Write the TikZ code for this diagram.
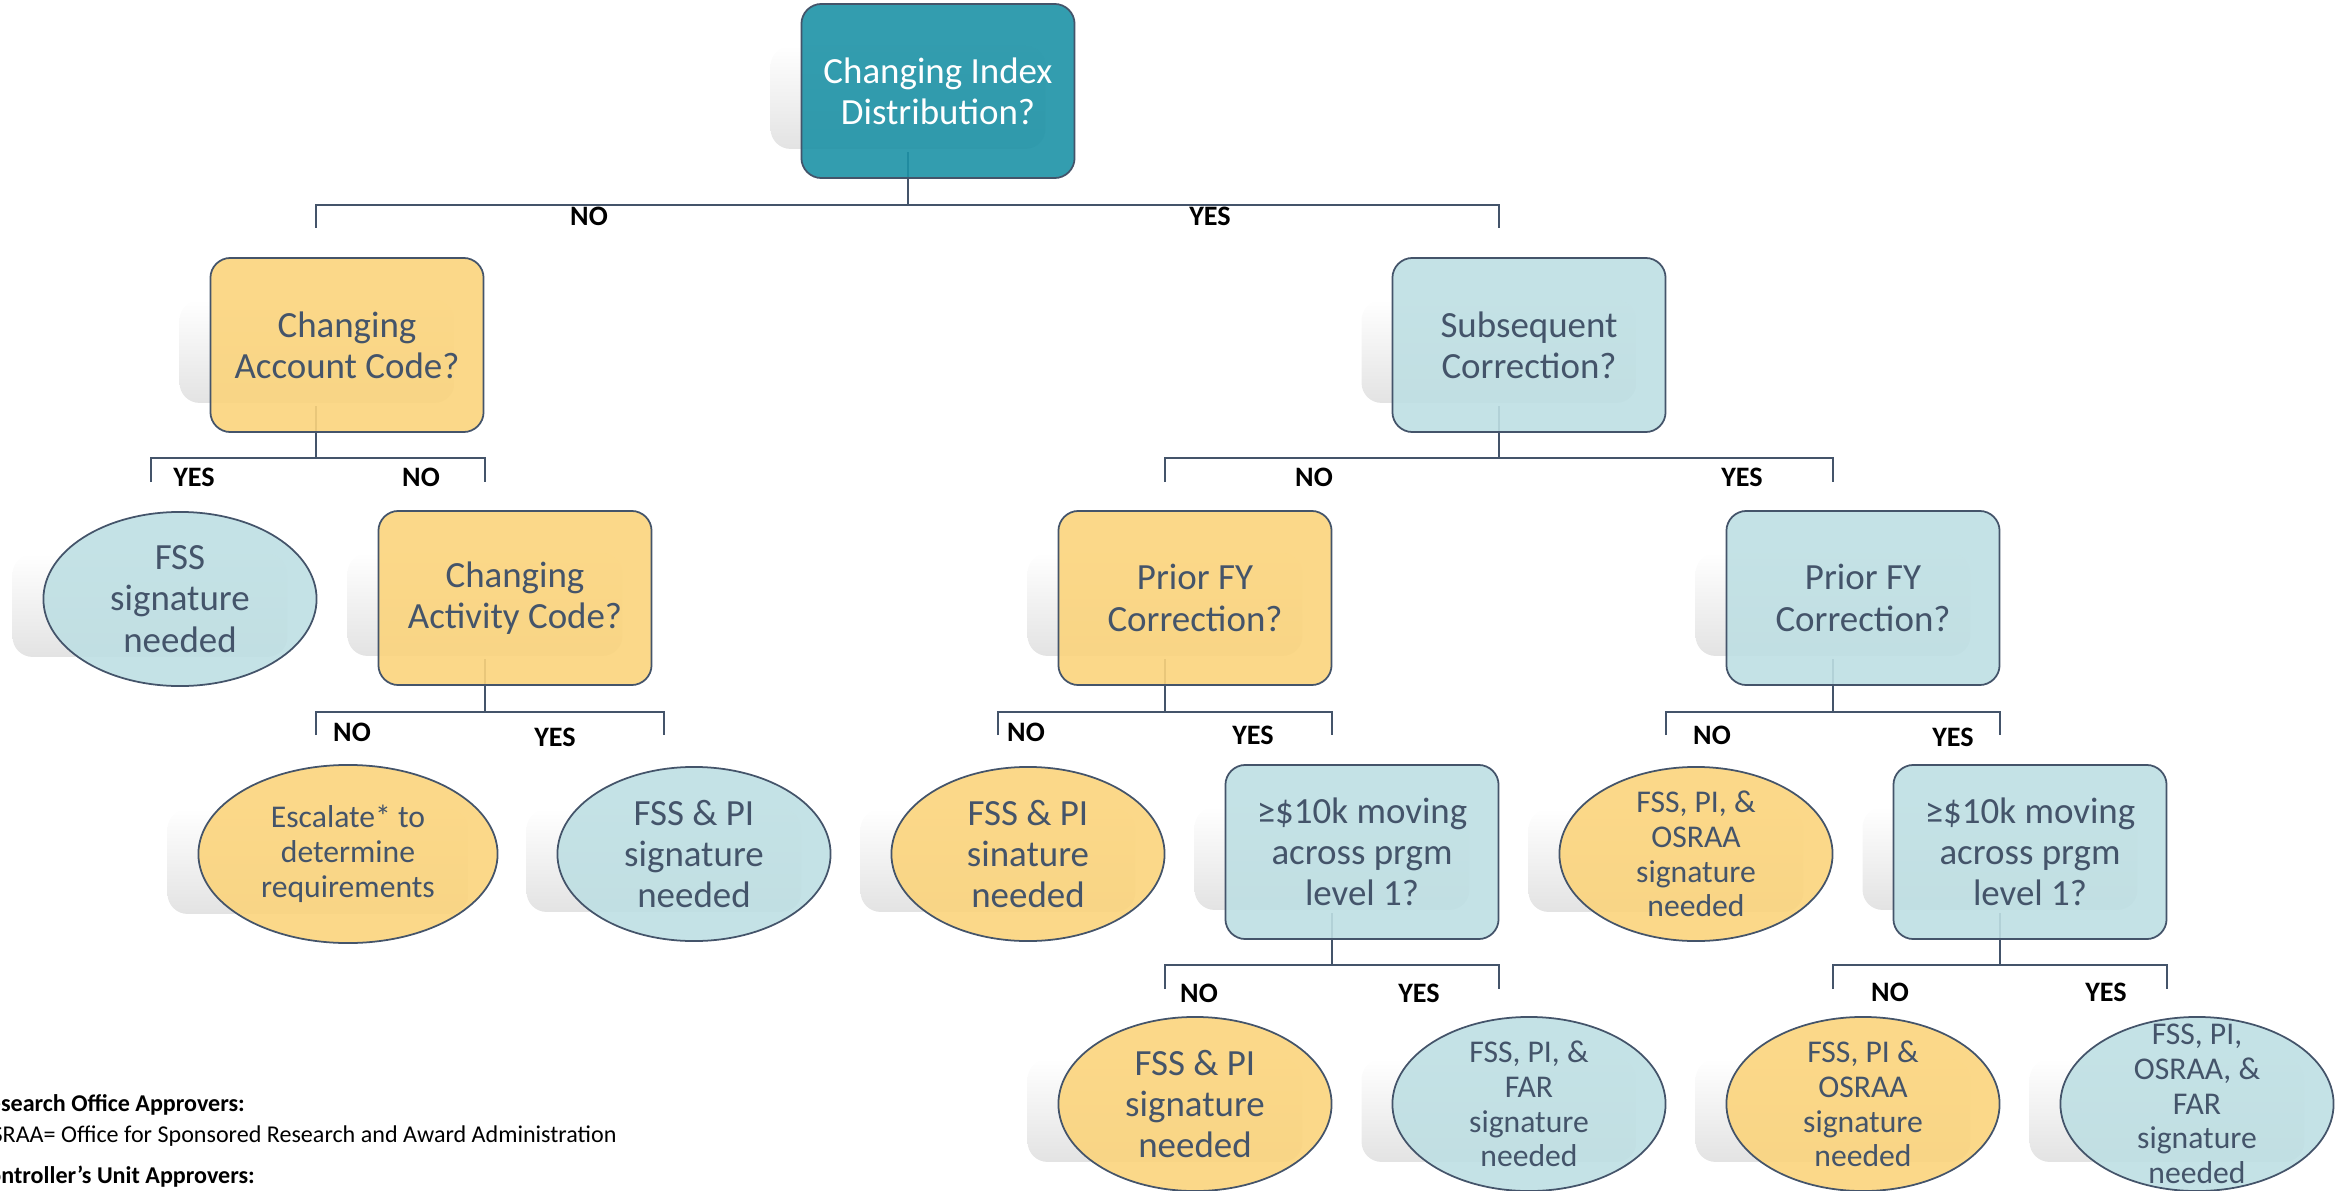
\documentclass[tikz,border=0pt]{standalone}
\usepackage{fontspec}
\setmainfont{Carlito}
\usetikzlibrary{shapes.geometric,backgrounds,calc}
\definecolor{rootteal}{HTML}{1D92A6}
\definecolor{qorange}{HTML}{FBD47C}
\definecolor{qblue}{HTML}{BEDFE3}
\definecolor{slate}{HTML}{44546A}
\tikzset{
    qbox/.style={draw=slate, line width=0.5pt, rounded corners=0.2cm,
        minimum width=2.73cm, minimum height=1.74cm, inner sep=0pt,
        align=center, text=slate, fill opacity=0.9, text opacity=1,
        font=\fontsize{10.5}{11.7}\selectfont},
    obox/.style={qbox, fill=qorange},
    bbox/.style={qbox, fill=qblue},
    rootbox/.style={qbox, fill=rootteal, text=white},
    % ellipses keep their size whatever the text (negative inner sep)
    qsig/.style={ellipse, draw=slate, line width=0.5pt,
        minimum width=2.73cm, minimum height=1.74cm, inner sep=-3cm,
        align=center, text=slate, fill opacity=0.9, text opacity=1,
        font=\fontsize{10.5}{11.7}\selectfont},
    osig/.style={qsig, fill=qorange},
    bsig/.style={qsig, fill=qblue},
    smalltext/.style={font=\fontsize{9}{9.9}\selectfont},
    ans/.style={font=\fontsize{8}{9}\selectfont\bfseries, inner sep=0pt},
    conn/.style={draw=slate, line width=0.5pt},
    legend/.style={anchor=base west, inner sep=0pt, font=\fontsize{6.85}{8.2}\selectfont},
}
\begin{document}
\begin{tikzpicture}[x=0.01cm,y=-0.01cm]
    \useasboundingbox (0,0) rectangle (2339,1191);
    \clip (0,0) rectangle (2339,1191);
    % questions and outcomes
    \node[rootbox] (root) at (938,91) {Changing Index\\Distribution?};
    \node[obox] (acct) at (347,345) {Changing\\Account Code?};
    \node[bbox] (subs) at (1529,345) {Subsequent\\Correction?};
    \node[bsig] (fss1) at (180,599) {FSS\\signature\\needed};
    \node[obox] (actv) at (515,598) {Changing\\Activity Code?};
    \node[obox] (pfyo) at (1195,598) {Prior FY\\Correction?};
    \node[bbox] (pfyb) at (1863,598) {Prior FY\\Correction?};
    \node[osig, smalltext, minimum width=2.99cm, minimum height=1.78cm] (esc) at (348,854) {Escalate* to\\determine\\requirements};
    \node[bsig] (fsspi1) at (694,854) {FSS \& PI\\signature\\needed};
    \node[osig] (fsspi2) at (1028,854) {FSS \& PI\\sinature\\needed};
    \node[bbox] (amt1) at (1362,852) {≥\$10k moving\\across prgm\\level 1?};
    \node[osig, smalltext] (osr1) at (1696,854) {FSS, PI, \&\\OSRAA\\signature\\needed};
    \node[bbox] (amt2) at (2030,852) {≥\$10k moving\\across prgm\\level 1?};
    \node[osig] (fsspi3) at (1195,1104) {FSS \& PI\\signature\\needed};
    \node[bsig, smalltext] (far1) at (1529,1104) {FSS, PI, \&\\FAR\\signature\\needed};
    \node[osig, smalltext] (osr2) at (1863,1104) {FSS, PI \&\\OSRAA\\signature\\needed};
    \node[bsig, smalltext] (far2) at (2197,1104) {FSS, PI,\\OSRAA, \&\\FAR\\signature\\needed};

    % branch points and open ends
    \coordinate (j0) at (908,205);  \coordinate (d0n) at (316,228);  \coordinate (d0y) at (1499,228);
    \coordinate (j1) at (316,458);  \coordinate (d1y) at (151,482);  \coordinate (d1n) at (485,482);
    \coordinate (j2) at (1499,458); \coordinate (d2n) at (1165,482); \coordinate (d2y) at (1833,482);
    \coordinate (j3) at (485,712);  \coordinate (d3n) at (316,735);  \coordinate (d3y) at (664,735);
    \coordinate (j4) at (1165,712); \coordinate (d4n) at (998,735);  \coordinate (d4y) at (1332,735);
    \coordinate (j5) at (1833,712); \coordinate (d5n) at (1666,735); \coordinate (d5y) at (2000,735);
    \coordinate (j6) at (1332,965); \coordinate (d6n) at (1165,989); \coordinate (d6y) at (1499,989);
    \coordinate (j7) at (2000,965); \coordinate (d7n) at (1833,989); \coordinate (d7y) at (2167,989);

    \begin{scope}[on background layer]
        % soft shadows
        \foreach \n in {root,acct,subs,fss1,actv,pfyo,pfyb,esc,fsspi1,fsspi2,amt1,osr1,amt2,fsspi3,far1,osr2,far2}
            \shade[top color=white, bottom color=black!11, rounded corners=0.2cm]
                ($(\n.west |- \n.south)+(-30,-30)$) rectangle ($(\n.east |- \n.center)+(-30,-45)$);
        % stems
        \foreach \p/\j in {root/j0,acct/j1,subs/j2,actv/j3,pfyo/j4,pfyb/j5,amt1/j6,amt2/j7}
            \draw[conn] ($(\p.south -| \j)+(0,-27)$) -- (\j);
        % bars
        \foreach \j/\a/\b in {j0/d0n/d0y,j1/d1y/d1n,j2/d2n/d2y,j3/d3n/d3y,j4/d4n/d4y,j5/d5n/d5y,j6/d6n/d6y,j7/d7n/d7y}
            \draw[conn] (\a) |- (\j) -| (\b);
    \end{scope}

    % answers
    \node[ans] (a0n) at (589,216) {NO};
    \node[ans] (a0y) at (1210,216) {YES};
    \node[ans] (a1y) at (194,477) {YES};
    \node[ans] (a1n) at (421,477) {NO};
    \node[ans] (a2n) at (1314,477) {NO};
    \node[ans] (a2y) at (1742,477) {YES};
    \node[ans] (a3n) at (352,732) {NO};
    \node[ans] (a3y) at (555,737) {YES};
    \node[ans] (a4n) at (1026,732) {NO};
    \node[ans] (a4y) at (1253,735) {YES};
    \node[ans] (a5n) at (1712,735) {NO};
    \node[ans] (a5y) at (1953,737) {YES};
    \node[ans] (a6n) at (1199,993) {NO};
    \node[ans] (a6y) at (1419,993) {YES};
    \node[ans] (a7n) at (1890,992) {NO};
    \node[ans] (a7y) at (2106,992) {YES};

    % legend (runs off the left edge)
    \node[legend, font=\fontsize{6.85}{8.2}\selectfont\bfseries] (leg1) at (-25,1111) {Research Office Approvers:};
    \node[legend] (leg2) at (-25,1142) {OSRAA= Office for Sponsored Research and Award Administration};
    \node[legend, font=\fontsize{6.85}{8.2}\selectfont\bfseries] (leg3) at (-25,1183) {Controller’s Unit Approvers:};
\end{tikzpicture}
\end{document}
